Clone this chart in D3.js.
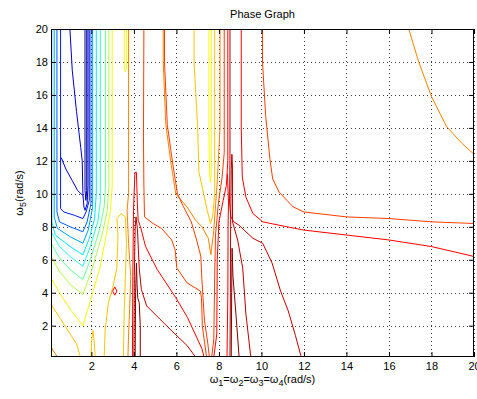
<!DOCTYPE html>
<html lang="en">
<head>
<meta charset="UTF-8">
<title>Phase Graph</title>
<script src="https://d3js.org/d3.v7.min.js"></script>
<style>
    body { margin: 0; background: #fff; }
    svg { display: block; font-family: "Liberation Sans", Arial, sans-serif; }
    .tick line { stroke: #000; }
    .tick text { font-size: 11px; fill: #000; }
</style>
</head>
<body>
<svg id="chart" width="477" height="399"></svg>
<script>
    // axis ticks
    const xTicks = [2, 4, 6, 8, 10, 12, 14, 16, 18, 20];
    const yTicks = [2, 4, 6, 8, 10, 12, 14, 16, 18, 20];

    // contour level indices (jet colormap, low -> high)
    const levels = [0, 1, 2, 3, 4, 5, 6, 7, 8, 9, 10, 11, 12, 13, 14, 15];

    // contour lines: [level, [[w1, w5], ...]]
    const leftFan = [
        [0, [[1.70, 20], [1.70, 10.2], [1.74, 9.6], [1.78, 10.2], [1.78, 20]]],
        [1, [[0.99, 20], [1.1, 17.5], [1.3, 15], [1.5, 12.8], [1.57, 12], [1.6, 10], [1.65, 9.2], [1.7, 9.0], [1.8, 9.4], [1.84, 10.5], [1.84, 20]]],
        [1, [[0.58, 12.2], [0.8, 11.5], [1.1, 10.8], [1.35, 10.2], [1.6, 9.9]]],
        [2, [[0.55, 20], [0.55, 9.1], [0.7, 8.9], [1.2, 8.7], [1.6, 8.5], [1.75, 8.9], [1.9, 9.6], [1.9, 20]]],
        [3, [[0.38, 20], [0.38, 8.9], [0.5, 8.3], [1.0, 8.0], [1.6, 7.7], [1.8, 8.3], [1.98, 9.4], [1.98, 20]]],
        [4, [[0.25, 20], [0.25, 8.6], [0.4, 7.9], [1.0, 7.4], [1.6, 7.0], [1.85, 7.8], [2.06, 9.2], [2.06, 20]]],
        [5, [[0.14, 20], [0.14, 8.3], [0.3, 7.5], [1.0, 6.8], [1.6, 6.3], [1.9, 7.3], [2.15, 8.5], [2.23, 10], [2.23, 20]]],
        [6, [[0.1, 7.7], [0.5, 6.8], [1.0, 6.2], [1.6, 5.6], [1.95, 6.8], [2.3, 8.3], [2.42, 9.5], [2.42, 20]]],
        [7, [[0.1, 7.0], [0.5, 6.1], [1.0, 5.4], [1.6, 4.8], [2.0, 6.2], [2.4, 7.9], [2.6, 9.2], [2.66, 10.5], [2.66, 20]]],
        [8, [[0.1, 6.2], [0.5, 5.3], [1.0, 4.5], [1.6, 3.9], [2.0, 5.3], [2.5, 7.5], [2.75, 9], [2.82, 10.5], [2.82, 20]]],
        [9, [[0.1, 4.9], [0.5, 4.0], [1.0, 3.0], [1.6, 2.0], [1.95, 3.5], [2.4, 5.5], [2.7, 7.5], [2.9, 9], [2.98, 10.5], [2.98, 20]]],
        [10, [[0.1, 3.3], [0.5, 2.5], [1.0, 1.5], [1.3, 0.9], [1.48, 0.1]]],
        [11, [[0.1, 0.7], [0.3, 0.3], [0.4, 0.1]]]
    ];

    const middleBand = [
        [10, [[1.98, 0.1], [2.02, 1.2], [2.07, 1.7], [2.12, 1.2], [2.18, 0.1]]],
        [10, [[2.6, 0.1], [2.65, 1.8], [2.8, 3.4], [3.0, 4.3], [3.2, 5.5], [3.25, 7.5], [3.2, 8.5], [3.4, 8.8], [3.6, 8.6], [3.65, 7], [3.6, 5], [3.55, 3], [3.5, 0.1]]],
        [13, [[3.0, 4.1], [3.1, 4.35], [3.2, 4.1], [3.1, 3.85], [3.0, 4.1]]],
        [9, [[3.55, 20], [3.55, 17.6], [3.6, 17.4], [3.65, 17.6], [3.65, 20]]],
        [11, [[3.75, 20], [3.75, 10], [3.68, 9], [3.75, 7], [3.85, 5], [3.8, 3], [3.75, 1.5], [3.72, 0.1]]],
        [13, [[3.93, 0.1], [3.95, 5], [3.98, 9], [4.05, 11.3], [4.12, 11.3], [4.16, 9.5], [4.2, 8.4], [4.31, 8.0], [4.55, 6.8], [5.1, 5.4], [5.97, 3.7], [6.52, 2.5], [6.95, 1.3], [7.2, 0.6], [7.3, 0.1]]],
        [14, [[4.0, 0.1], [4.02, 5], [4.06, 8], [4.1, 8.6], [4.17, 7.8], [4.25, 5.5], [4.35, 4.2], [4.6, 3.2], [5.22, 2.4], [5.93, 1.5], [6.5, 0.8], [6.9, 0.1]]],
        [15, [[4.06, 0.1], [4.08, 4], [4.12, 5.8], [4.15, 4.5], [4.18, 3.7], [4.25, 3.4], [4.3, 2], [4.3, 0.1]]],
        [12, [[4.47, 20], [4.45, 13.5], [4.47, 10.5], [4.5, 8.6], [4.9, 8.2], [5.3, 7.9], [5.78, 7.2], [5.94, 6.6], [6.02, 5.5], [6.5, 4.6], [7.13, 4.1], [7.18, 3.7], [7.22, 2.0], [7.32, 1.0], [7.42, 0.1]]]
    ];

    const valleyLines = [
        [11, [[5.38, 20], [5.38, 18], [5.5, 14.2], [5.75, 11.8], [5.97, 10], [6.5, 9.2], [6.9, 8.4], [7.2, 8.0], [7.5, 7.3], [7.62, 6.3], [7.76, 7.8], [7.93, 10.9], [8.05, 14], [8.05, 20]]],
        [12, [[5.44, 20], [5.44, 18], [5.57, 14.2], [5.83, 11.8], [6.05, 10.0], [6.3, 9.3], [6.7, 8.3], [6.95, 7.2], [7.15, 6.2], [7.2, 4.8], [7.32, 2.3], [7.48, 0.9], [7.55, 0.1]]],
        [10, [[6.83, 20], [6.83, 18], [7.0, 14], [7.06, 11.3], [7.2, 10.5], [7.45, 9], [7.6, 8.2], [7.7, 8.6], [7.8, 10], [7.8, 20]]],
        [9, [[7.53, 20], [7.53, 14], [7.56, 11.2], [7.6, 10.7], [7.64, 11.2], [7.64, 14], [7.64, 20]]],
        [12, [[7.66, 0.1], [7.76, 1.2], [7.8, 5], [7.84, 7.5], [7.98, 9.5], [8.15, 11], [8.25, 12.5], [8.25, 20]]],
        [13, [[7.76, 0.1], [7.9, 1.5], [7.92, 6], [8.0, 8.3], [8.2, 9.6], [8.35, 10.5], [8.42, 12], [8.42, 20]]],
        [13, [[8.38, 0.1], [8.42, 4], [8.43, 8], [8.45, 9.5], [8.4, 11.2]]],
        [14, [[8.52, 20], [8.52, 12], [8.5, 9.5], [8.56, 8.6], [8.7, 8.3], [8.94, 8.1], [9.6, 7.3], [10.06, 7.0], [10.5, 5.8], [10.9, 4.1], [11.26, 2.9], [11.6, 1.4], [11.87, 0.1]]],
        [14, [[8.52, 0.1], [8.54, 4], [8.55, 8], [8.58, 11.5], [8.61, 12.4], [8.64, 11.5], [8.64, 8.3], [8.88, 7.2], [9.12, 5.5], [9.27, 2.7], [9.5, 0.1]]],
        [15, [[8.58, 0.1], [8.6, 4], [8.62, 6.7], [8.66, 5], [8.8, 2.7], [8.95, 0.1]]]
    ];

    const rightLines = [
        [13, [[9.05, 20], [9.05, 14], [9.1, 11], [9.27, 9.8], [9.6, 8.8], [10.06, 8.3], [11.2, 8.0], [12, 7.8], [14, 7.5], [16, 7.2], [18, 6.8], [20, 6.2]]],
        [12, [[10.05, 20], [10.05, 18], [10.2, 14.7], [10.4, 12.1], [10.53, 10.9], [10.83, 10.1], [11.2, 9.6], [11.5, 9.2], [12, 8.9], [14, 8.6], [16, 8.5], [18, 8.3], [20, 8.2]]],
        [11, [[16.93, 20], [17.4, 18], [18.0, 15.9], [18.7, 14.1], [19.4, 13.1], [20, 12.4]]]
    ];

    const svg = d3.select("#chart");
    const plotLeft = 51, plotRight = 474, plotTop = 29, plotBottom = 357;

    const x = d3.scaleLinear().domain([0.1, 20]).range([plotLeft, plotRight]);
    const y = d3.scaleLinear().domain([0.1, 20]).range([plotBottom, plotTop]);

    const jet = d3.scaleLinear()
        .domain([0, 0.11, 0.36, 0.61, 0.86, 1])
        .range(["#00008f", "#0000ff", "#00ffff", "#ffff00", "#ff0000", "#800000"]);
    const lvl = d3.scaleLinear().domain(d3.extent(levels)).range([0, 1]);
    const color = l => jet(lvl(l));

    svg.append("rect").attr("width", 477).attr("height", 399).attr("fill", "#fff");

    svg.append("defs").append("clipPath").attr("id", "plot")
        .append("rect").attr("x", plotLeft).attr("y", plotTop)
        .attr("width", plotRight - plotLeft).attr("height", plotBottom - plotTop);

    // dotted grid
    const grid = svg.append("g").attr("stroke", "#000").attr("stroke-width", 1)
        .attr("stroke-dasharray", "1,3").attr("opacity", 0.75);
    grid.selectAll(".gx").data(xTicks).enter().append("line")
        .attr("x1", d => Math.round(x(d)) + 0.5).attr("x2", d => Math.round(x(d)) + 0.5)
        .attr("y1", plotTop).attr("y2", plotBottom);
    grid.selectAll(".gy").data(yTicks).enter().append("line")
        .attr("y1", d => Math.round(y(d)) + 0.5).attr("y2", d => Math.round(y(d)) + 0.5)
        .attr("x1", plotLeft).attr("x2", plotRight);

    // contour lines
    const line = d3.line().x(d => x(d[0])).y(d => y(d[1]));
    const allLines = leftFan.concat(middleBand, valleyLines, rightLines)
        .sort((a, b) => a[0] - b[0]);
    svg.append("g").attr("clip-path", "url(#plot)")
        .selectAll("path").data(allLines).enter().append("path")
        .attr("d", d => line(d[1]))
        .attr("fill", "none")
        .attr("stroke", d => color(d[0]))
        .attr("stroke-width", 1)
        .attr("stroke-linejoin", "round");

    // axes with inward ticks
    svg.append("g").attr("transform", `translate(0,${plotBottom})`)
        .call(d3.axisBottom(x).tickValues(xTicks).tickSize(-5).tickPadding(5).tickFormat(d3.format("d")))
        .call(g => g.select(".domain").remove());
    svg.append("g").attr("transform", `translate(0,${plotTop})`)
        .call(d3.axisTop(x).tickValues(xTicks).tickSize(-5).tickFormat(""))
        .call(g => g.select(".domain").remove());
    svg.append("g").attr("transform", `translate(${plotLeft},0)`)
        .call(d3.axisLeft(y).tickValues(yTicks).tickSize(-5).tickPadding(3).tickFormat(d3.format("d")))
        .call(g => g.select(".domain").remove());
    svg.append("g").attr("transform", `translate(${plotRight},0)`)
        .call(d3.axisRight(y).tickValues(yTicks).tickSize(-5).tickFormat(""))
        .call(g => g.select(".domain").remove());
    svg.selectAll(".tick text").attr("font-family", null).attr("font-size", null);

    svg.append("rect").attr("x", plotLeft + 0.5).attr("y", plotTop + 0.5)
        .attr("width", plotRight - plotLeft - 1).attr("height", plotBottom - plotTop - 1)
        .attr("fill", "none").attr("stroke", "#000");

    // title and labels
    svg.append("text").attr("x", (plotLeft + plotRight) / 2).attr("y", 18)
        .attr("text-anchor", "middle").attr("font-size", 11).text("Phase Graph");

    const xl = svg.append("text").attr("x", (plotLeft + plotRight) / 2).attr("y", 383)
        .attr("text-anchor", "middle").attr("font-size", 11);
    [["ω", "1"], ["=ω", "2"], ["=ω", "3"], ["=ω", "4"]].forEach((p, i) => {
        xl.append("tspan").attr("dy", i === 0 ? 0 : -3).text(p[0]);
        xl.append("tspan").attr("dy", 3).attr("font-size", 9).text(p[1]);
    });
    xl.append("tspan").attr("dy", -3).text("(rad/s)");

    const yl = svg.append("text").attr("transform", `translate(23,${(plotTop + plotBottom) / 2}) rotate(-90)`)
        .attr("text-anchor", "middle").attr("font-size", 11);
    yl.append("tspan").text("ω");
    yl.append("tspan").attr("dy", 3).attr("font-size", 9).text("5");
    yl.append("tspan").attr("dy", -3).text("(rad/s)");
</script>
</body>
</html>
